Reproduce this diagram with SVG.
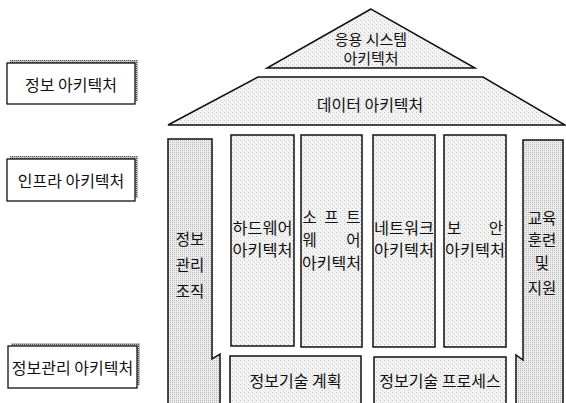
<svg xmlns="http://www.w3.org/2000/svg" width="566" height="403" viewBox="0 0 566 403">
<defs>
<pattern id="dots" width="4" height="4" patternUnits="userSpaceOnUse">
<rect width="4" height="4" fill="#f2f2f2"/>
<rect x="0" y="0" width="1" height="1" fill="#c8c8c8"/>
<rect x="2" y="2" width="1" height="1" fill="#d8d8d8"/>
</pattern>
<pattern id="dark" width="2" height="2" patternUnits="userSpaceOnUse">
<rect width="2" height="2" fill="#ebebeb"/>
<rect x="0" y="0" width="1" height="1" fill="#bdbdbd"/>
</pattern>
<pattern id="shadow" width="2" height="2" patternUnits="userSpaceOnUse">
<rect width="2" height="2" fill="#bdbdbd"/>
<rect x="0" y="0" width="1" height="1" fill="#555"/>
</pattern>
</defs>
<style>
text{font-family:"Noto Sans CJK KR","Liberation Sans",sans-serif;fill:#111;}
.t{font-size:16px;text-anchor:middle;}
.r{font-size:15px;text-anchor:middle;}
.c{font-size:15.5px;text-anchor:middle;}
.s{fill:url(#dots);stroke:#111;stroke-width:1.5;}
.d{fill:url(#dark);stroke:#111;stroke-width:1.5;}
.lb{fill:#fff;stroke:#111;stroke-width:1.3;}
.sh{fill:url(#shadow);}
</style>

<g id="roof-app">
<polygon class="s" points="371,9 267,68 475,68"/>
<text class="r" x="371" y="45">응용 시스템</text>
<text class="r" x="371" y="64">아키텍처</text>
</g>

<g id="roof-data">
<polygon class="s" points="258,77 483,77 565,125 168,125"/>
<text class="t" x="370" y="111">데이터 아키텍처</text>
</g>

<g id="col-org">
<polygon class="d" points="168,139 212,139 212,359 220,354 220,405 168,405"/>
<text class="c" x="190" y="245">정보</text>
<text class="c" x="190" y="271">관리</text>
<text class="c" x="190" y="297">조직</text>
</g>

<g id="col-hw">
<rect class="s" x="231" y="135" width="63" height="211"/>
<text class="c" x="262.5" y="234" textLength="60" lengthAdjust="spacingAndGlyphs">하드웨어</text>
<text class="c" x="262.5" y="256" textLength="60" lengthAdjust="spacingAndGlyphs">아키텍처</text>
</g>

<g id="col-sw">
<rect class="s" x="301" y="135" width="61" height="212"/>
<text class="c" x="331.5" y="223" textLength="58" lengthAdjust="spacing">소 프 트</text>
<text class="c" x="331.5" y="246" textLength="58" lengthAdjust="spacing">웨 어</text>
<text class="c" x="331.5" y="269" textLength="59" lengthAdjust="spacingAndGlyphs">아키텍처</text>
</g>

<g id="col-nw">
<rect class="s" x="373" y="135" width="62" height="212"/>
<text class="c" x="404" y="234" textLength="60" lengthAdjust="spacingAndGlyphs">네트워크</text>
<text class="c" x="404" y="256" textLength="60" lengthAdjust="spacingAndGlyphs">아키텍처</text>
</g>

<g id="col-sec">
<rect class="s" x="444" y="135" width="62" height="212"/>
<text class="c" x="475" y="234" textLength="56" lengthAdjust="spacing">보 안</text>
<text class="c" x="475" y="256" textLength="60" lengthAdjust="spacingAndGlyphs">아키텍처</text>
</g>

<g id="col-edu">
<polygon class="d" points="523,140 563,140 563,405 516,405 516,355 523,360"/>
<text class="c" x="542" y="224">교육</text>
<text class="c" x="542" y="246">훈련</text>
<text class="c" x="542" y="269">및</text>
<text class="c" x="542" y="294">지원</text>
</g>

<g id="plan">
<rect class="s" x="230" y="356" width="131" height="52"/>
<text class="t" x="295.5" y="387">정보기술 계획</text>
</g>

<g id="process">
<rect class="s" x="374" y="357" width="132" height="51"/>
<text class="t" x="440" y="387">정보기술 프로세스</text>
</g>

<g id="lbl-info">
<rect class="sh" x="10" y="60" width="128" height="41"/>
<rect class="lb" x="7" y="63" width="128" height="41"/>
<text class="t" x="71" y="91">정보 아키텍처</text>
</g>

<g id="lbl-infra">
<rect class="sh" x="10" y="156" width="128" height="42"/>
<rect class="lb" x="7" y="159" width="128" height="42"/>
<text class="t" x="71" y="187">인프라 아키텍처</text>
</g>

<g id="lbl-mgmt">
<rect class="sh" x="11" y="343" width="129" height="42"/>
<rect class="lb" x="8" y="346" width="129" height="42"/>
<text class="t" x="72.5" y="374">정보관리 아키텍처</text>
</g>

<g id="connectors"></g>
</svg>
